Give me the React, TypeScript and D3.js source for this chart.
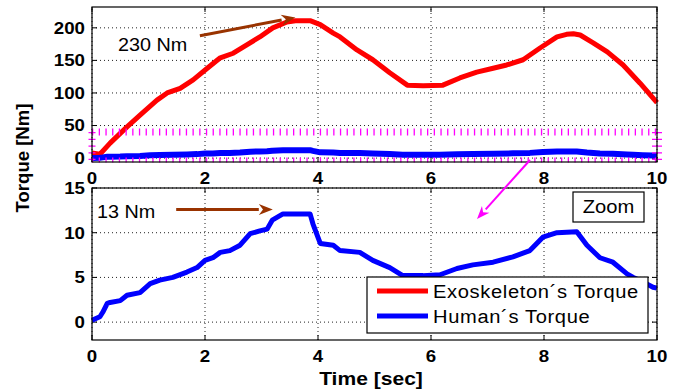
import React from "react";
import * as d3 from "d3";

const timeTicks = [0, 2, 4, 6, 8, 10];
const topYTicks = [0, 50, 100, 150, 200];
const botYTicks = [0, 5, 10, 15];

const exoT = [0, 0.14, 0.32, 0.62, 0.85, 1.15, 1.33, 1.56, 1.79, 2.04, 2.27, 2.5, 2.74, 2.97, 3.2, 3.45, 3.6, 3.86, 4.04, 4.27, 4.39, 4.69, 4.97, 5.27, 5.58, 5.86, 6.21, 6.51, 6.81, 7.1, 7.34, 7.63, 7.93, 8.23, 8.4, 8.52, 8.64, 8.87, 9.12, 9.4, 9.7, 10];
const exoV = [7.7, 6, 23, 48, 66, 89, 100, 107, 120, 138, 154, 161, 174, 186, 200, 209, 211, 211, 205, 192, 186, 166, 151, 131, 112, 111, 112, 123, 132, 138, 143, 151, 169, 186, 190, 191, 189, 177, 163, 143, 115, 85];

const humT = [0, 0.14, 0.19, 0.27, 0.32, 0.5, 0.62, 0.85, 1.03, 1.2, 1.43, 1.68, 1.86, 2.0, 2.14, 2.27, 2.44, 2.62, 2.8, 2.97, 3.1, 3.19, 3.38, 3.86, 3.91, 4.04, 4.27, 4.39, 4.74, 4.97, 5.27, 5.5, 5.86, 6.16, 6.46, 6.74, 7.1, 7.45, 7.75, 7.98, 8.23, 8.58, 8.76, 8.99, 9.22, 9.47, 9.58, 9.75, 9.93, 10];
const humV = [0.2, 0.6, 1.1, 2.1, 2.2, 2.4, 3.0, 3.3, 4.3, 4.7, 5.0, 5.6, 6.1, 6.9, 7.2, 7.8, 8.0, 8.6, 9.9, 10.2, 10.4, 11.4, 12.1, 12.1, 11.0, 8.8, 8.6, 8.0, 7.8, 6.9, 6.1, 5.2, 5.2, 5.3, 6.0, 6.4, 6.7, 7.3, 8.0, 9.5, 10.0, 10.1, 8.6, 7.2, 6.7, 5.4, 5.0, 4.5, 3.9, 3.8];

const legendLabels = ["Exoskeleton´s Torque", "Human´s Torque"];
const zoomRect = { t0: 0, t1: 10, v0: -3, v1: 40 };
const topArrow = { t0: 1.91, v0: 188, t1: 3.6, v1: 216, label: "230 Nm" };
const botArrow = { t0: 1.49, v0: 12.6, t1: 3.2, v1: 12.6, label: "13 Nm" };

const FONT = "'Liberation Sans', Arial, sans-serif";

function T(props: { x: number; y: number; sx?: number; rot?: number; size: number; bold?: boolean; anchor?: string; dy?: string; ls?: number; children: React.ReactNode }) {
  const { x, y, sx = 1, rot = 0, size, bold, anchor = "start", dy, ls, children } = props;
  return (
    <text
      transform={`translate(${x},${y}) rotate(${rot}) scale(${sx},1)`}
      fontSize={size}
      fontWeight={bold ? "bold" : "normal"}
      fontFamily={FONT}
      textAnchor={anchor}
      dy={dy}
      letterSpacing={ls}
    >
      {children}
    </text>
  );
}

export default function App() {
  const x = d3.scaleLinear().domain([0, 10]).range([92, 657]);
  const yTop = d3.scaleLinear().domain([-6, 232]).range([162, 7]);
  const yBot = d3.scaleLinear().domain([-2, 15]).range([340, 188]);

  const exo = exoT.map((t, i) => [t, exoV[i]] as [number, number]);
  const hum = humT.map((t, i) => [t, humV[i]] as [number, number]);

  const lineTop = d3.line<[number, number]>().x(d => x(d[0])).y(d => yTop(d[1]));
  const lineBot = d3.line<[number, number]>().x(d => x(d[0])).y(d => yBot(d[1]));

  const axes = (y: d3.ScaleLinear<number, number>, yTicks: number[], key: string) => {
    const [x0, x1] = x.range();
    const [yb, yt] = y.range();
    return (
      <g key={key}>
        {timeTicks.map(t => (
          <line key={"gx" + t} x1={x(t)} x2={x(t)} y1={yb} y2={yt} stroke="#222" strokeWidth={1} strokeDasharray="1 3" />
        ))}
        {yTicks.map(v => (
          <line key={"gy" + v} x1={x0} x2={x1} y1={y(v)} y2={y(v)} stroke="#222" strokeWidth={1} strokeDasharray="1 3" />
        ))}
        {timeTicks.map(t => (
          <g key={"tx" + t}>
            <line x1={x(t)} x2={x(t)} y1={yb} y2={yb - 5} stroke="#000" />
            <line x1={x(t)} x2={x(t)} y1={yt} y2={yt + 5} stroke="#000" />
          </g>
        ))}
        {yTicks.map(v => (
          <g key={"ty" + v}>
            <line x1={x0} x2={x0 + 5} y1={y(v)} y2={y(v)} stroke="#000" />
            <line x1={x1} x2={x1 - 5} y1={y(v)} y2={y(v)} stroke="#000" />
          </g>
        ))}
        {yTicks.map(v => (
          <T key={"ly" + v} x={x0 - 7} y={y(v)} dy="0.35em" anchor="end" size={17} bold sx={1.1}>{v}</T>
        ))}
        {timeTicks.map(t => (
          <T key={"lx" + t} x={x(t)} y={yb + 16} dy="0.35em" anchor="middle" size={17} bold sx={1.1}>{t}</T>
        ))}
      </g>
    );
  };

  const arrow = (x0: number, y0: number, x1: number, y1: number, color: string, w: number, hl: number, hw: number, key: string) => {
    const ang = Math.atan2(y1 - y0, x1 - x0);
    const bx = x1 - hl * Math.cos(ang);
    const by = y1 - hl * Math.sin(ang);
    const px = -Math.sin(ang) * hw / 2;
    const py = Math.cos(ang) * hw / 2;
    return (
      <g key={key}>
        <line x1={x0} y1={y0} x2={bx} y2={by} stroke={color} strokeWidth={w} />
        <polygon points={`${x1},${y1} ${bx + px},${by + py} ${bx + hl * 0.3 * Math.cos(ang)},${by + hl * 0.3 * Math.sin(ang)} ${bx - px},${by - py}`} fill={color} />
      </g>
    );
  };

  const rx0 = x(zoomRect.t0), rx1 = x(zoomRect.t1);
  const ry0 = yTop(zoomRect.v1), ry1 = yTop(zoomRect.v0);

  return (
    <svg width={679} height={392} style={{ position: "absolute", left: 0, top: 0, background: "#fff" }}>
      <rect x={0} y={0} width={679} height={392} fill="#fff" />
      {axes(yTop, topYTicks, "top")}
      {axes(yBot, botYTicks, "bot")}

      <path d={lineTop(exo) || ""} fill="none" stroke="#ff0000" strokeWidth={5} strokeLinejoin="round" />
      <path d={lineTop(hum) || ""} fill="none" stroke="#0000ff" strokeWidth={6} strokeLinejoin="round" />

      <g stroke="#ff00ff" fill="none">
        <line x1={rx0} x2={rx1} y1={ry0} y2={ry0} strokeWidth={7} strokeDasharray="1.3 5.4" />
        <line x1={rx0} x2={rx1} y1={ry1} y2={ry1} strokeWidth={5} strokeDasharray="1.3 5.4" />
        <line x1={rx0} x2={rx0} y1={ry0} y2={ry1} strokeWidth={7} strokeDasharray="1.3 5.4" />
        <line x1={rx1} x2={rx1} y1={ry0} y2={ry1} strokeWidth={10} strokeDasharray="1.3 5.4" />
      </g>

      <path d={lineBot(hum) || ""} fill="none" stroke="#0000ff" strokeWidth={5} strokeLinejoin="round" />

      <rect x={92} y={7} width={565} height={155} fill="none" stroke="#000" strokeWidth={1.2} />
      <rect x={92} y={188} width={565} height={152} fill="none" stroke="#000" strokeWidth={1.2} />

      {arrow(x(topArrow.t0), yTop(topArrow.v0), x(topArrow.t1), yTop(topArrow.v1), "#993300", 3, 14, 11, "a1")}
      <T x={118} y={51} size={18} sx={1.1}>{topArrow.label}</T>
      {arrow(x(botArrow.t0), yBot(botArrow.v0), x(botArrow.t1), yBot(botArrow.v1), "#993300", 3, 14, 11, "a2")}
      <T x={97} y={218} size={18} sx={1.1}>{botArrow.label}</T>
      {arrow(530, 160, 477, 219, "#ff00ff", 2, 13, 10, "a3")}

      <rect x={573} y={192} width={71} height={30} fill="#fff" stroke="#000" strokeWidth={1.2} />
      <T x={608.5} y={207} dy="0.35em" anchor="middle" size={18} sx={1.12}>Zoom</T>

      <rect x={367} y={277} width={281} height={56} fill="#fff" stroke="#000" strokeWidth={1.2} />
      {legendLabels.map((l, i) => (
        <g key={l}>
          <line x1={377} x2={428} y1={291 + i * 25} y2={291 + i * 25} stroke={i === 0 ? "#ff0000" : "#0000ff"} strokeWidth={5} />
          <T x={433} y={291 + i * 25} dy="0.35em" size={19} sx={1.06} ls={0.6}>{l}</T>
        </g>
      ))}

      <T x={371} y={385} anchor="middle" size={18} bold sx={1.17}>Time [sec]</T>
      <T x={29} y={158} rot={-90} anchor="middle" size={18} bold sx={1.03}>Torque [Nm]</T>
    </svg>
  );
}
